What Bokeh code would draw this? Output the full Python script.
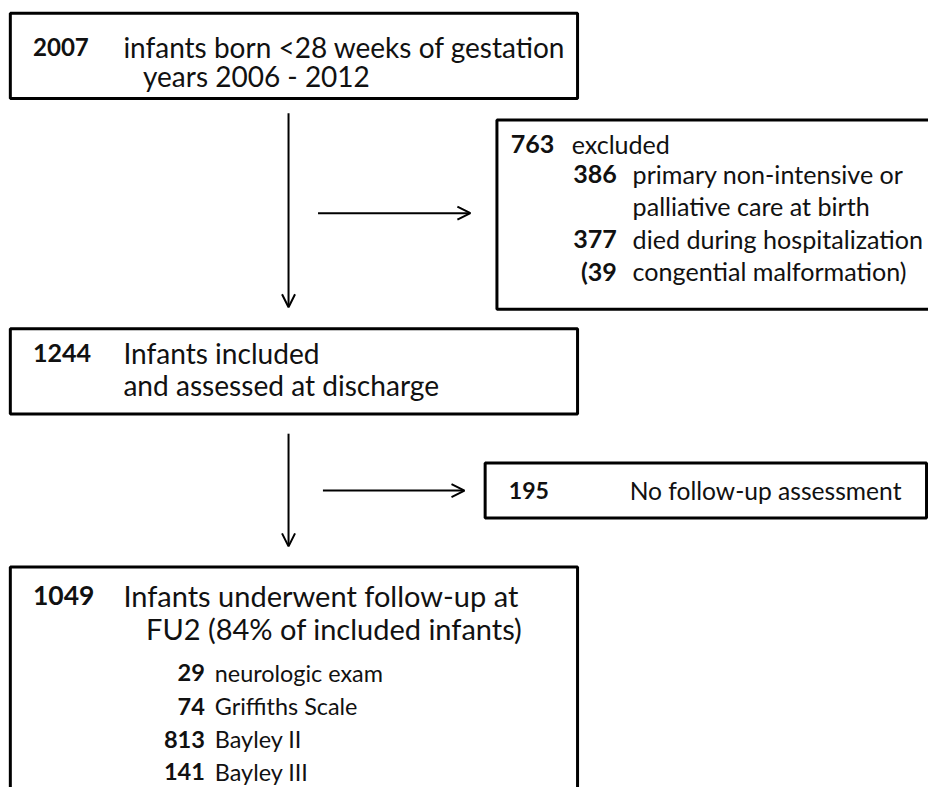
from bokeh.plotting import figure
from bokeh.models import Range1d, Arrow, OpenHead, ColumnDataSource
from bokeh.core.properties import value
from bokeh.embed import file_html
from bokeh.resources import INLINE

# ---- data (counts and labels of the flow chart) ----
box_numbers = ["2007", "763", "1244", "195", "1049"]
box1_lines = ["infants born <28 weeks of gestation", "years 2006 - 2012"]
box2_head = "excluded"
box2_sub_numbers = ["386", "", "377", "(39"]
box2_sub_lines = ["primary non-intensive  or", "palliative care at birth",
                  "died during hospitalization", "congential malformation)"]
box3_lines = ["Infants included", "and assessed at discharge"]
box4_line = "No follow-up assessment"
box5_lines = ["Infants underwent follow-up at", "FU2 (84% of included infants)"]
box5_sub_numbers = ["29", "74", "813", "141"]
box5_sub_lines = ["neurologic exam", "Griffiths Scale", "Bayley II", "Bayley III"]

# ---- layout (pixel-like coordinates of a 944x803 sheet, y downwards) ----
box_left = [10, 505, 10, 493, 10]
box_right = [587, 960, 587, 942, 587]
box_top = [13, 122, 335, 472, 578]
box_bottom = [100, 315, 422, 528, 860]

arrows = [  # x0, y0, x1, y1
    (293, 115, 293, 313),
    (323, 217, 478, 217),
    (293, 442, 293, 557),
    (328, 500, 472, 500),
]

SHEET_W, SHEET_H = 944, 803
W, H = 928, 787
K = W / SHEET_W  # font scale so the sheet fits the figure

FONT = value("Lato")
p = figure(width=W, height=H, output_backend="svg", toolbar_location=None,
           x_range=Range1d(0, SHEET_W), y_range=Range1d(SHEET_H, 0),
           min_border=0, outline_line_color=None)
p.axis.visible = False
p.grid.visible = False
p.background_fill_color = "white"
p.border_fill_color = "white"

p.quad(left=box_left, right=box_right, top=box_top, bottom=box_bottom,
       fill_color=None, line_color="black", line_width=3)

for x0, y0, x1, y1 in arrows:
    p.add_layout(Arrow(end=OpenHead(size=13, line_width=2, line_color="black"),
                       x_start=x0, y_start=y0, x_end=x1, y_end=y1,
                       line_width=2, line_color="black"))


def txt(xs, ys, texts, size, bold=False, align="left"):
    src = ColumnDataSource(dict(x=xs, y=ys, t=texts))
    p.text(x="x", y="y", text="t", source=src, text_font=FONT,
           text_font_size=f"{size * K:.1f}px",
           text_font_style="bold" if bold else "normal",
           text_align=align, text_baseline="middle", text_color="#111111")


# box 1
txt([33], [47], [box_numbers[0]], 24.5, bold=True)
txt([125, 145], [47, 77], box1_lines, 28.5)
# box 2
txt([519], [146], [box_numbers[1]], 25.5, bold=True)
txt([581], [146], [box2_head], 25.5)
txt([627] * 4, [177, 210, 243, 276], box2_sub_numbers, 25.5, bold=True, align="right")
txt([643] * 4, [177, 210, 243, 276], box2_sub_lines, 25.5)
# box 3
txt([33], [360], [box_numbers[2]], 25.5, bold=True)
txt([125, 125], [360, 392], box3_lines, 28.6)
# box 4
txt([517], [500], [box_numbers[3]], 23.5, bold=True)
txt([640], [500], [box4_line], 25)
# box 5
txt([33], [607], [box_numbers[4]], 27, bold=True)
txt([125, 148], [607, 641], box5_lines, 29.5)
txt([208] * 4, [686, 720, 754, 787], box5_sub_numbers, 24, bold=True, align="right")
txt([218] * 4, [686, 720, 754, 787], box5_sub_lines, 23.8)

open("out.html", "w").write(file_html(p, INLINE))
